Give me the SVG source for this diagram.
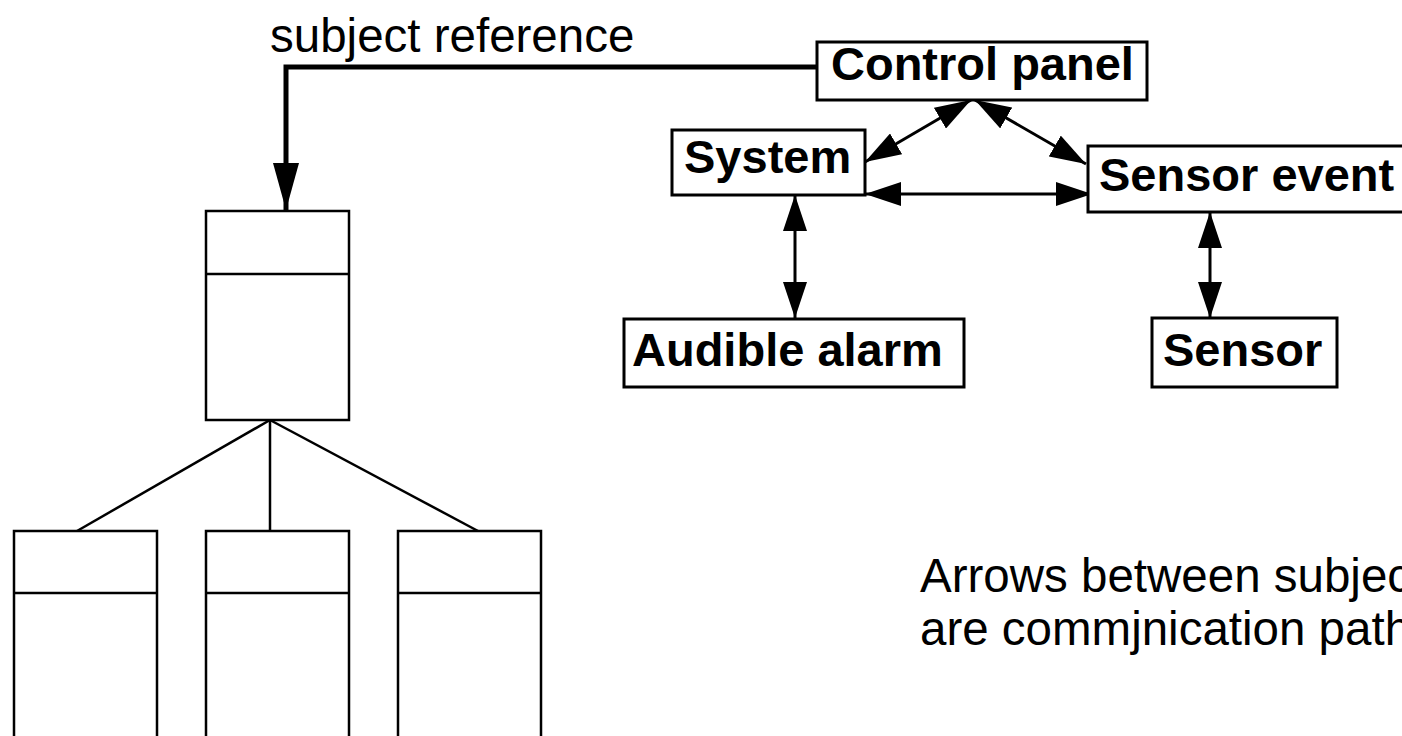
<svg xmlns="http://www.w3.org/2000/svg" width="1402" height="736" viewBox="0 0 1402 736">
<style>
.box{fill:#fff;stroke:#000;stroke-width:3}
.lbl{font-family:"Liberation Sans",Arial,sans-serif;font-weight:bold;font-size:47px;fill:#000}
.txt{font-family:"Liberation Sans",Arial,sans-serif;font-size:47.5px;fill:#000}
.conn{fill:none;stroke:#000;stroke-width:3}
.ref{fill:none;stroke:#000;stroke-width:5}
.tree{fill:none;stroke:#000;stroke-width:2.5}
</style>
<defs>
<marker id="ah" viewBox="0 0 36 24" refX="36" refY="12" markerWidth="36" markerHeight="24" markerUnits="userSpaceOnUse" orient="auto-start-reverse">
<path d="M0,0 L36,12 L0,24 z" fill="#000"/>
</marker>
<marker id="rh" viewBox="0 0 47 26" refX="47" refY="13" markerWidth="47" markerHeight="26" markerUnits="userSpaceOnUse" orient="auto">
<path d="M0,0 L47,13 L0,26 z" fill="#000"/>
</marker>
</defs>
<text class="txt" x="270" y="52">subject reference</text>
<g id="connectors">
<path class="ref" d="M817,67 H286 V210" marker-end="url(#rh)"/>
<line class="conn" x1="971" y1="100" x2="865" y2="162" marker-start="url(#ah)" marker-end="url(#ah)"/>
<line class="conn" x1="975" y1="100" x2="1086" y2="164" marker-start="url(#ah)" marker-end="url(#ah)"/>
<line class="conn" x1="865" y1="194" x2="1092" y2="194" marker-start="url(#ah)" marker-end="url(#ah)"/>
<line class="conn" x1="795" y1="195" x2="795" y2="318" marker-start="url(#ah)" marker-end="url(#ah)"/>
<line class="conn" x1="1210" y1="212" x2="1210" y2="318" marker-start="url(#ah)" marker-end="url(#ah)"/>
<line class="tree" x1="270" y1="420" x2="77" y2="531"/>
<line class="tree" x1="270" y1="420" x2="270" y2="531"/>
<line class="tree" x1="270" y1="420" x2="478" y2="531"/>
</g>
<g id="control-panel">
<rect class="box" x="817" y="42" width="330" height="58"/>
<text class="lbl" x="831" y="80">Control panel</text>
</g>
<g id="system">
<rect class="box" x="672" y="130" width="193" height="65"/>
<text class="lbl" x="684" y="173">System</text>
</g>
<g id="sensor-event">
<rect class="box" x="1088" y="146" width="340" height="66"/>
<text class="lbl" x="1099" y="191">Sensor event</text>
</g>
<g id="audible-alarm">
<rect class="box" x="624" y="319" width="340" height="68"/>
<text class="lbl" x="632" y="366">Audible alarm</text>
</g>
<g id="sensor">
<rect class="box" x="1152" y="318" width="185" height="69"/>
<text class="lbl" x="1163" y="366">Sensor</text>
</g>
<g id="subject-top">
<rect class="tree" x="206" y="211" width="143" height="209"/>
<line class="tree" x1="206" y1="274" x2="349" y2="274"/>
</g>
<g id="subject-1">
<rect class="tree" x="14" y="531" width="143" height="230"/>
<line class="tree" x1="14" y1="593" x2="157" y2="593"/>
</g>
<g id="subject-2">
<rect class="tree" x="206" y="531" width="143" height="230"/>
<line class="tree" x1="206" y1="593" x2="349" y2="593"/>
</g>
<g id="subject-3">
<rect class="tree" x="398" y="531" width="143" height="230"/>
<line class="tree" x1="398" y1="593" x2="541" y2="593"/>
</g>
<g id="note">
<text class="txt" x="920" y="592">Arrows between subjects</text>
<text class="txt" x="920" y="645">are commjnication paths</text>
</g>
</svg>
